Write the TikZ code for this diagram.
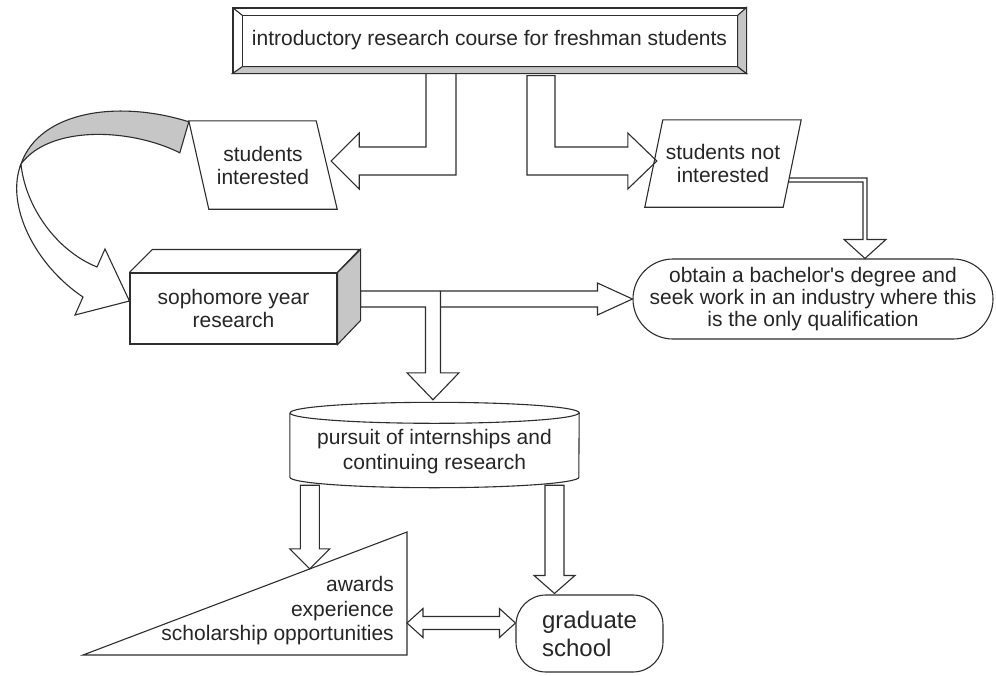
\documentclass[tikz,border=0pt]{standalone}
\usepackage{fontspec}
\setmainfont{Liberation Sans}[Ligatures=TeXOff]
\usetikzlibrary{calc, positioning}

\definecolor{inkline}{HTML}{2E2E2E}
\definecolor{inktext}{HTML}{262626}
\definecolor{shadegray}{HTML}{C6C6C6}

\newcommand{\labelfont}{\fontsize{21}{23}\selectfont}

% straight hollow arrow: tail, tip, half shaft, half head, head length
\newcommand{\hollowarrow}[5]{%
  \coordinate (ha) at ($(#2)!#5!(#1)$);
  \draw[blk] ($(#1)!#3!90:(#2)$) -- ($(ha)!#3!90:(#2)$) -- ($(ha)!#4!90:(#2)$)
    -- (#2) -- ($(ha)!#4!-90:(#2)$) -- ($(ha)!#3!-90:(#2)$)
    -- ($(#1)!#3!-90:(#2)$) -- cycle;
}

\begin{document}
\begin{tikzpicture}[x=1pt, y=-1pt,
    every node/.style={font=\labelfont, text=inktext},
    box/.style={draw=inkline, line width=1.1pt, inner sep=0pt, align=center},
    txt/.style={inner sep=0pt, align=center},
    blk/.style={draw=inkline, line width=1.1pt, line join=miter},
    shadeface/.style={draw=inkline, line width=1.1pt, fill=shadegray},
  ]
  \fill[white] (0,0) rectangle (996,675);
  \useasboundingbox (0,0) rectangle (996,675);

  % nodes
  \node[box, minimum width=513pt, minimum height=65pt] (intro) at (489.5,40.5)
    {introductory research course for freshman students};
  \node[txt, minimum width=128pt, minimum height=88pt] (int) at (263,165)
    {students\\interested};
  \node[txt, minimum width=120pt, minimum height=87pt] (notint) at (723,163.5)
    {students not\\interested};
  \node[box, minimum width=207pt, minimum height=71pt] (soph) at (233.5,308.5)
    {sophomore year\\research};
  \node[box, minimum width=360pt, minimum height=80pt, rounded corners=40pt,
        font=\fontsize{21}{22}\selectfont] (bach) at (813,299)
    {obtain a bachelor's degree and\\seek work in an industry where this\\is the only qualification};
  \node[txt, minimum width=289pt, minimum height=70pt,
        font=\fontsize{21}{25}\selectfont] (pur) at (434.5,452)
    {pursuit of internships and\\continuing research};
  \node[txt, anchor=east, align=right, font=\fontsize{21}{24.5}\selectfont] (tri) at (394,611)
    {awards\\experience\\scholarship opportunities};
  \node[box, minimum width=147pt, minimum height=77pt, rounded corners=30pt, align=left,
        font=\fontsize{24}{28}\selectfont] (grad) at (589.5,633.5)
    {graduate\\school};

  % bevel of the top box
  \draw[shadeface] (intro.south west) -- (intro.south east) -- ($(intro.south east)+(-9,-7)$)
    -- ($(intro.south west)+(10,-7)$) -- cycle;
  \draw[shadeface] (intro.north east) -- (intro.south east) -- ($(intro.south east)+(-9,-7)$)
    -- ($(intro.north east)+(-9,8)$) -- cycle;
  \draw[blk] ($(intro.north west)+(10,8)$) rectangle ($(intro.south east)+(-9,-7)$);
  \draw[blk] (intro.north west) -- ($(intro.north west)+(10,8)$);

  % parallelograms
  \draw[blk] ($(int.north west)+(-10,0)$) -- ($(int.north east)+(-11,0)$)
    -- ($(int.south east)+(10,0)$) -- ($(int.south west)+(10,0)$) -- cycle;
  \draw[blk] (notint.north west) -- ($(notint.north east)+(18,0)$)
    -- (notint.south east) -- ($(notint.south west)+(-18,0)$) -- cycle;

  % cuboid
  \draw[blk] (soph.north west) -- ++(23,-23) -- ++(207,0) -- (soph.north east);
  \draw[shadeface] (soph.north east) -- ++(23,-23) -- ++(0,71) -- (soph.south east) -- cycle;

  % cylinder
  \draw[blk] ($(pur.north west)+(0,-4)$) -- ($(pur.south west)+(0,-10)$)
    arc[start angle=180, end angle=360, x radius=144.5pt, y radius=10.5pt]
    -- ($(pur.north east)+(0,-4)$)
    arc[start angle=0, end angle=180, x radius=144.5pt, y radius=10.5pt];
  \draw[blk] ($(pur.north west)+(0,-4)$)
    arc[start angle=180, end angle=360, x radius=144.5pt, y radius=10.5pt];

  % triangle
  \coordinate (tri-a) at (83,655);
  \coordinate (tri-b) at (407,532);
  \coordinate (tri-c) at (407,655);
  \draw[blk] (tri-a) -- (tri-b) -- (tri-c) -- cycle;

  % arrows from the top box
  \coordinate (s1) at ($(intro.south)+(-48.5,0)$);
  \coordinate (t1) at ($(int.east)+(4,-4)$);
  \draw[blk] ($(s1)+(-15,0)$) |- ($(t1)+(28,-14)$) -- ++(0,-14) -- (t1) -- ++(28,28)
    -- ++(0,-14) -| ($(s1)+(15,0)$);
  \coordinate (s2) at ($(intro.south)+(51.5,2)$);
  \coordinate (t2) at ($(notint.west)+(-6,-2.5)$);
  \draw[blk] ($(s2)+(-14,0)$) |- ($(t2)+(-29,14)$) -- ++(0,14) -- (t2) -- ++(-29,-28)
    -- ++(0,14) -| ($(s2)+(14,0)$) -- cycle;

  % double line arrow
  \coordinate (s3) at ($(notint.east)+(6,16.5)$);
  \coordinate (t3) at ($(bach.north)+(52,0)$);
  \draw[blk] ($(s3)+(0,-2)$) -| ($(t3)+(2,-19)$) -- ++(19,0) -- (t3) -- ++(-21,-19)
    -- ++(19,0) |- ($(s3)+(0,2)$);

  % curved arrow
  \coordinate (tw) at (21,164);
  \coordinate (ctip) at ($(soph.west)+(0,-7.5)$);
  \draw[shadeface] ($(int.north west)+(-10,1)$) .. controls (120,100) and (40,110) .. (tw)
    .. controls (50,125) and (130,128) .. ($(int.north west)+(-19,32)$) -- cycle;
  \draw[blk] (tw) .. controls (5,205) and (35,265) .. (83,297) -- (75,315) -- (ctip)
    -- (105,249) -- (97,267) .. controls (55,250) and (25,205) .. (tw);

  % split arrow from sophomore year
  \coordinate (s4) at ($(soph.east)+(23,-9.5)$);
  \coordinate (t4) at ($(pur.north)+(-1.5,-17)$);
  \coordinate (j4) at (t4 |- s4);
  \draw[blk] ($(s4)+(0,-8)$) -- ($(j4)+(7.5,-8)$) -- ($(t4)+(7.5,-27)$) -- ++(18.5,0)
    -- (t4) -- ++(-26,-27) -- ++(18.5,0) |- ($(s4)+(0,8)$) -- cycle;
  \draw[blk] ($(j4)+(7.5,-8)$) -- ($(bach.west)+(-35,-8)$) -- ++(0,-8) -- (bach.west)
    -- ++(-35,16) -- ++(0,-8) -- ($(j4)+(7.5,8)$);

  % arrows from the cylinder
  \coordinate (t5) at ($(tri-a)!0.7!(tri-b)$);
  \coordinate (s5) at ($(t5 |- pur.south)+(0,-2)$);
  \hollowarrow{s5}{t5}{9.5pt}{20pt}{20pt}
  \coordinate (t6) at ($(grad.north)+(-35,-1)$);
  \coordinate (s6) at ($(t6 |- pur.south)+(0,-2)$);
  \hollowarrow{s6}{t6}{9.5pt}{20.5pt}{18pt}

  % two way arrow
  \coordinate (dl) at ($(tri-b)!0.74!(tri-c)$);
  \coordinate (dr) at (grad.west |- dl);
  \draw[blk] (dl) -- ++(16,-14.5) -- ++(0,8) -- ($(dr)+(-16,-6.5)$) -- ++(0,-8) -- (dr)
    -- ++(-16,14.5) -- ++(0,-8) -- ($(dl)+(16,6.5)$) -- ++(0,8) -- cycle;
\end{tikzpicture}
\end{document}
